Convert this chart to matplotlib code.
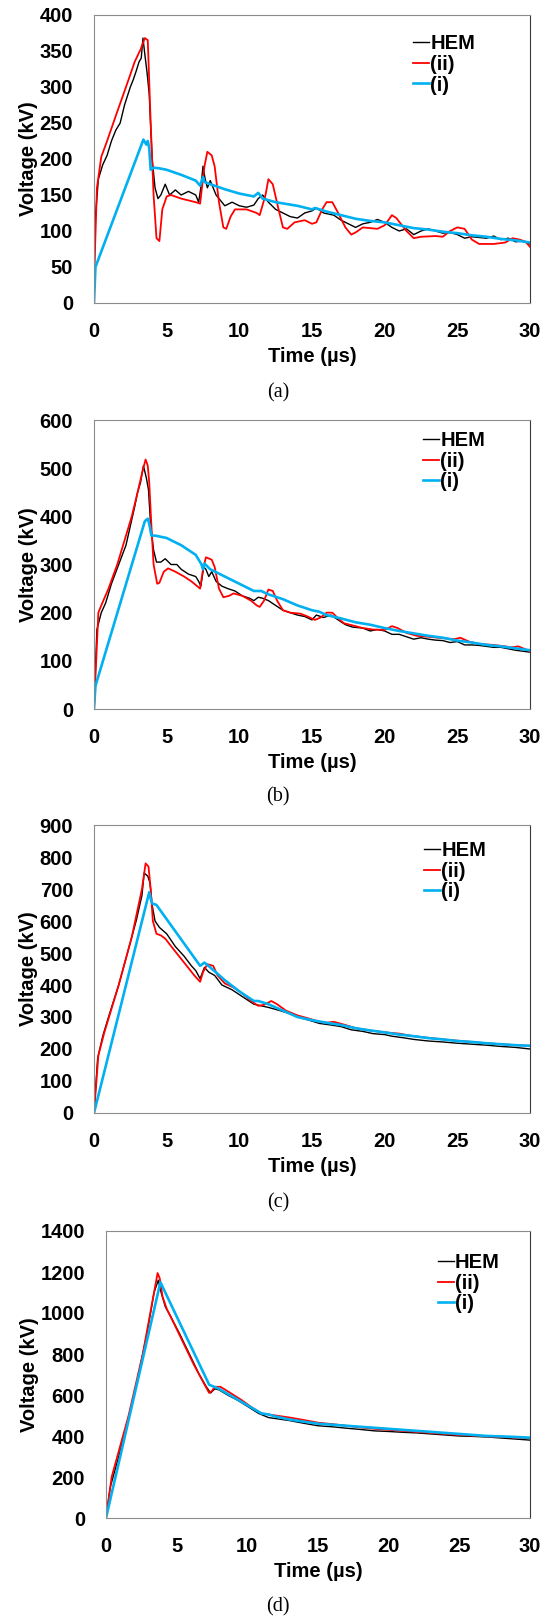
import matplotlib
matplotlib.use("Agg")
import matplotlib.pyplot as plt

# ---- panel (a) ----
a_hem_t = [0, 0.1, 0.3, 0.6, 0.9, 1.2, 1.5, 1.8, 2.1, 2.5, 2.7, 2.9, 3.1, 3.25, 3.37, 3.5, 3.65, 3.8, 4.0, 4.2, 4.4,
           4.6, 4.9, 5.2, 5.6, 6.0, 6.5, 7.0, 7.2, 7.35, 7.5, 7.65, 7.8, 8.0, 8.4, 8.8, 9.0, 9.5, 10.0, 10.5, 11.0,
           11.3, 11.6, 12.0, 12.5, 13.0, 13.5, 14.0, 14.5, 15.0, 15.3, 15.8, 16.5, 17.0, 17.5, 18.0, 18.5, 19.0,
           19.5, 20.0, 20.5, 21.0, 21.5, 22.0, 22.5, 23.0, 23.5, 24.0, 24.5, 25.0, 25.5, 26.0, 27.0, 27.5, 28.0,
           28.5, 29.0, 29.5, 30.0]
a_hem_v = [28, 120, 172, 192, 205, 225, 240, 250, 275, 300, 310, 322, 335, 340, 368, 345, 320, 290, 200, 160, 145,
           150, 165, 150, 157, 150, 155, 150, 140, 160, 190, 172, 160, 170, 150, 140, 135, 140, 135, 133, 136,
           145, 150, 140, 130, 125, 120, 118, 125, 128, 132, 125, 122, 115, 110, 105, 110, 112, 116, 112, 105,
           100, 103, 95, 100, 103, 100, 97, 98, 95, 90, 92, 90, 93, 88, 90, 85, 86, 82]
a_ii_t = [0, 0.2, 0.5, 0.9, 1.5, 2.2, 2.8, 3.2, 3.5, 3.7, 3.9, 4.1, 4.3, 4.5, 4.7, 5.0, 5.3, 6.0, 7.0, 7.3, 7.6, 7.8,
          8.1, 8.3, 8.6, 8.9, 9.1, 9.4, 9.7, 10.5, 11.2, 11.4, 11.8, 12.0, 12.3, 12.7, 13.0, 13.3, 13.8, 14.5,
          15.0, 15.3, 15.7, 16.0, 16.4, 16.8, 17.3, 17.7, 18.0, 18.5, 19.5, 20.0, 20.5, 20.8, 21.5, 22.0, 22.5,
          23.5, 24.0, 24.5, 25.0, 25.5, 26.0, 26.5, 27.5, 28.3, 28.8, 29.3, 29.7, 30.0]
a_ii_v = [30, 160, 203, 225, 260, 300, 335, 352, 368, 365, 250, 150, 90, 86, 130, 148, 150, 145, 140, 138, 190, 210,
          205, 190, 140, 105, 103, 120, 130, 130, 125, 122, 150, 172, 165, 130, 105, 103, 112, 115,
          110, 112, 130, 140, 140, 125, 105, 95, 98, 105, 103, 108, 122, 118, 100, 90, 92,
          93, 92, 100, 105, 103, 88, 82, 82, 84, 90, 88, 85, 78]
a_i_t = [0, 0.1, 3.4, 3.6, 3.7, 3.8, 3.9, 4.1, 4.5, 5.0, 6.0, 7.0, 7.3, 7.5, 7.6, 8.0, 9.0, 10.0, 11.0, 11.3, 11.6,
         12.5, 14.0, 15.0, 15.2, 16.0, 17.0, 18.0, 19.0, 20.0, 21.0, 22.0, 23.0, 24.0, 25.0, 26.0, 27.0, 28.0,
         29.0, 30.0]
a_i_v = [0, 50, 227, 220, 225, 215, 185, 188, 187, 185, 178, 170, 163, 175, 168, 165, 158, 152, 148, 153, 145,
         140, 135, 130, 132, 127, 122, 117, 114, 112, 108, 104, 102, 99, 97, 94, 92, 89, 87, 84]

# ---- panel (b) ----
b_hem_t = [0, 0.2, 0.5, 0.8, 1.2, 1.7, 2.2, 2.5, 2.8, 3.0, 3.2, 3.4, 3.6, 3.75, 3.9, 4.1, 4.3, 4.6, 4.9, 5.3, 5.7,
           6.0, 6.5, 7.0, 7.2, 7.35, 7.55, 7.7, 7.9, 8.1, 8.4, 8.8, 9.2, 9.7, 10.2, 10.7, 11.0, 11.3, 11.6, 12.0,
           12.5, 13.0, 13.5, 14.0, 14.5, 15.0, 15.3, 15.8, 16.3, 16.8, 17.3, 17.8, 18.5, 19.0, 19.5, 20.0, 20.5,
           21.0, 21.5, 22.0, 22.5, 23.0, 23.5, 24.0, 24.5, 25.0, 25.5, 26.0, 26.5, 27.0, 27.5, 28.0, 28.5, 29.0,
           29.5, 30.0]
b_hem_v = [0, 165, 200, 220, 260, 300, 340, 380, 420, 450, 470, 505, 480, 455, 380, 330, 305, 305, 312, 300, 300,
           290, 280, 275, 265, 255, 295, 290, 275, 285, 265, 255, 250, 245, 235, 230, 225, 232, 230, 225,
           215, 205, 200, 195, 192, 185, 195, 190, 195, 185, 175, 170, 168, 162, 165, 162, 155,
           155, 150, 145, 148, 145, 143, 142, 138, 140, 133, 133, 132, 130, 128, 128, 125, 122,
           120, 118]
b_ii_t = [0, 0.3, 0.5, 1.0, 1.6, 2.1, 2.6, 3.0, 3.35, 3.55, 3.7, 3.8, 3.95, 4.1, 4.35, 4.5, 4.8, 5.1, 5.6, 6.2, 6.7,
          7.1, 7.3, 7.5, 7.7, 8.1, 8.3, 8.6, 8.9, 9.3, 9.6, 10.2, 10.8, 11.2, 11.4, 11.7, 12.0, 12.3, 12.6, 13.0,
          13.5, 14.2, 14.7, 15.2, 15.6, 16.0, 16.4, 16.8, 17.2, 18.0, 18.5, 19.2, 20.0, 20.5, 20.9, 21.5, 22.2,
          23.0, 24.0, 24.8, 25.2, 25.8, 26.5, 27.5, 28.3, 28.7, 29.2, 29.6, 30.0]
b_ii_v = [0, 200, 215, 250, 300, 350, 400, 450, 495, 518, 505, 470, 380, 300, 260, 262, 285, 292, 285, 275, 265,
          255, 250, 290, 315, 310, 295, 250, 232, 235, 240, 235, 225, 215, 212, 225, 248, 245, 225, 205,
          200, 198, 192, 185, 190, 200, 200, 188, 178, 172, 168, 165, 164, 172, 168, 158, 152,
          150, 147, 145, 148, 140, 135, 133, 130, 128, 130, 125, 120]
b_i_t = [0, 0.1, 3.5, 3.7, 3.8, 3.95, 4.2, 5.0, 6.0, 7.0, 7.4, 7.5, 7.6, 8.0, 9.0, 10.0, 11.0, 11.5, 12.0, 13.0,
         14.0, 15.0, 15.5, 16.0, 17.0, 18.0, 19.0, 20.0, 21.0, 22.0, 23.0, 24.0, 25.0, 26.0, 27.0, 28.0, 29.0,
         30.0]
b_i_v = [0, 48, 390, 395, 385, 360, 360, 355, 340, 320, 300, 290, 302, 290, 275, 260, 245, 245, 238, 228,
         215, 205, 202, 195, 188, 180, 175, 168, 162, 157, 152, 148, 142, 138, 133, 130, 126, 122]

# ---- panel (c) ----
c_hem_t = [0, 0.25, 0.6, 1.0, 1.7, 2.3, 2.9, 3.3, 3.45, 3.7, 3.85, 4.0, 4.2, 4.5, 5.0, 5.6, 6.2, 6.7, 7.0, 7.3,
           7.6, 7.9, 8.3, 8.8, 9.5, 10.0, 10.5, 11.0, 11.5, 12.0, 12.8, 13.5, 14.0, 14.8, 15.5, 16.3, 17.0, 17.7,
           18.5, 19.2, 20.0, 20.5, 21.3, 22.0, 23.0, 24.0, 25.0, 26.0, 27.0, 28.0, 29.0, 30.0]
c_hem_v = [0, 170, 240, 300, 400, 500, 600, 680, 750, 740, 720, 650, 600, 580, 560, 520, 490, 460, 445, 420,
           455, 440, 430, 400, 385, 370, 355, 340, 335, 330, 320, 310, 300, 290, 280, 275, 270, 260,
           255, 248, 245, 240, 235, 230, 225, 222, 218, 215, 212, 208, 205, 200]
c_ii_t = [0, 0.3, 0.7, 1.7, 2.6, 3.3, 3.55, 3.75, 3.9, 4.05, 4.3, 4.6, 4.9, 5.5, 6.2, 6.9, 7.3, 7.5, 7.8, 8.2, 8.5,
          9.0, 9.7, 10.3, 10.8, 11.3, 11.7, 12.2, 12.6, 13.2, 14.0, 14.8, 15.5, 16.0, 16.5, 17.3, 18.0, 19.0,
          20.0, 21.0, 22.0, 23.0, 24.0, 25.0, 26.0, 27.0, 28.0, 29.0, 30.0]
c_ii_v = [0, 180, 250, 400, 550, 700, 780, 770, 700, 600, 560, 555, 545, 510, 470, 430, 410, 440, 465, 460, 430,
          405, 390, 370, 350, 335, 338, 350, 340, 320, 305, 295, 285, 282, 285, 275, 265, 258,
          252, 248, 240, 235, 230, 226, 222, 218, 215, 212, 210]
c_i_t = [0, 3.8, 3.9, 4.0, 4.3, 7.3, 7.6, 8.0, 9.0, 10.0, 11.0, 11.3, 12.0, 13.0, 14.0, 15.0, 16.0, 17.0, 18.0,
         19.0, 20.0, 21.0, 22.0, 23.0, 24.0, 25.0, 26.0, 27.0, 28.0, 29.0, 30.0]
c_i_v = [0, 690, 670, 655, 650, 460, 470, 455, 415, 380, 350, 350, 340, 320, 300, 290, 282, 275, 265,
         258, 252, 245, 240, 234, 230, 225, 222, 218, 215, 212, 210]

# ---- panel (d) ----
d_hem_t = [0, 0.3, 0.9, 2.0, 2.9, 3.4, 3.7, 3.9, 4.2, 4.6, 5.2, 5.9, 6.6, 7.1, 7.4, 7.7, 8.0, 8.6, 9.3, 10.0, 10.8,
           11.5, 12.0, 13.0, 14.0, 15.0, 16.0, 17.0, 18.0, 19.0, 20.0, 21.0, 22.0, 23.0, 24.0, 25.0, 26.0, 27.0,
           28.0, 29.0, 30.0]
d_hem_v = [0, 150, 300, 600, 900, 1100, 1160, 1100, 1030, 980, 900, 800, 700, 640, 610, 630, 625, 600, 575, 545,
           510, 490, 485, 475, 462, 450, 445, 438, 432, 425, 422, 418, 415, 410, 405, 400, 398, 395,
           390, 385, 380]
d_ii_t = [0, 0.4, 1.6, 2.6, 3.4, 3.65, 3.8, 4.0, 4.3, 4.8, 5.5, 6.2, 6.9, 7.3, 7.5, 7.7, 8.1, 8.8, 9.6, 10.3, 11.0,
          12.0, 13.0, 14.0, 15.0, 16.0, 17.0, 18.0, 19.0, 20.0, 21.0, 22.0, 23.0, 24.0, 25.0, 26.0, 27.0, 28.0,
          29.0, 30.0]
d_ii_v = [0, 200, 500, 800, 1100, 1195, 1170, 1080, 1020, 950, 850, 750, 660, 610, 620, 640, 640, 610, 575, 540,
          510, 500, 490, 478, 465, 458, 450, 442, 435, 430, 425, 420, 415, 410, 405, 402, 398, 395,
          392, 390]
d_i_t = [0, 3.85, 7.3, 8.0, 9.0, 10.0, 11.0, 11.5, 12.0, 13.0, 14.0, 15.0, 16.0, 17.0, 18.0, 19.0, 20.0, 21.0,
         22.0, 23.0, 24.0, 25.0, 26.0, 27.0, 28.0, 29.0, 30.0]
d_i_v = [0, 1150, 650, 630, 590, 550, 510, 505, 495, 480, 470, 460, 455, 450, 445, 440, 435, 430,
         425, 420, 415, 410, 405, 400, 398, 395, 392]

labels = ['HEM', '(ii)', '(i)']
captions = ['(a)', '(b)', '(c)', '(d)']
y_max = [400, 600, 900, 1400]
y_step = [50, 100, 100, 200]
x_ticks = [0, 5, 10, 15, 20, 25, 30]

W, H = 549, 1619
# axes boxes in pixels: left, top, right, bottom
boxes = [(94, 15, 530, 303), (94, 420, 530, 709), (94, 825, 530, 1113), (106, 1231, 530, 1518)]
leg_anchor = [(0.732, 0.933), (0.755, 0.962), (0.757, 0.944), (0.783, 0.923)]
cap_y = [393, 797, 1203, 1607]

panels = [
    [(a_hem_t, a_hem_v), (a_ii_t, a_ii_v), (a_i_t, a_i_v)],
    [(b_hem_t, b_hem_v), (b_ii_t, b_ii_v), (b_i_t, b_i_v)],
    [(c_hem_t, c_hem_v), (c_ii_t, c_ii_v), (c_i_t, c_i_v)],
    [(d_hem_t, d_hem_v), (d_ii_t, d_ii_v), (d_i_t, d_i_v)],
]
colors = ['#000000', '#FF0000', '#00B0F0']
widths = [1.0, 1.3, 1.9]
FS = 14.5

plt.rcParams['font.family'] = ['Liberation Sans', 'DejaVu Sans']
fig = plt.figure(figsize=(W / 100, H / 100), dpi=100)

for k, series in enumerate(panels):
    l, t, r, b = boxes[k]
    ax = fig.add_axes([l / W, 1 - b / H, (r - l) / W, (b - t) / H])
    for (tt, vv), c, lw, lab in zip(series, colors, widths, labels):
        ax.plot(tt, vv, color=c, lw=lw, label=lab)
    ax.set_xlim(0, 30)
    ax.set_ylim(0, y_max[k])
    ax.set_xticks(x_ticks)
    ax.set_yticks(range(0, y_max[k] + 1, y_step[k]))
    ax.tick_params(length=0, labelsize=FS, pad=15)
    ax.tick_params(axis='x', pad=14)
    for lb in ax.get_xticklabels() + ax.get_yticklabels():
        lb.set_fontweight('bold')
    for s in ['top', 'bottom', 'left']:
        ax.spines[s].set_color('#8c8c8c')
    ax.spines['right'].set_color('#3a3a3a')
    ax.set_xlabel('Time (µs)', fontsize=FS, fontweight='bold', labelpad=4)
    ax.set_ylabel('Voltage (kV)', fontsize=FS, fontweight='bold', labelpad=1)
    ax.legend(loc='upper left', bbox_to_anchor=leg_anchor[k], frameon=False, borderpad=0, borderaxespad=0,
              handlelength=0.8, handletextpad=0.05, labelspacing=0.08,
              prop={'size': FS, 'weight': 'bold'})
    fig.text(278 / W, 1 - cap_y[k] / H, captions[k], ha='center', va='center',
             fontsize=14.5, family='Liberation Serif')

fig.savefig('out.png', dpi=100)
